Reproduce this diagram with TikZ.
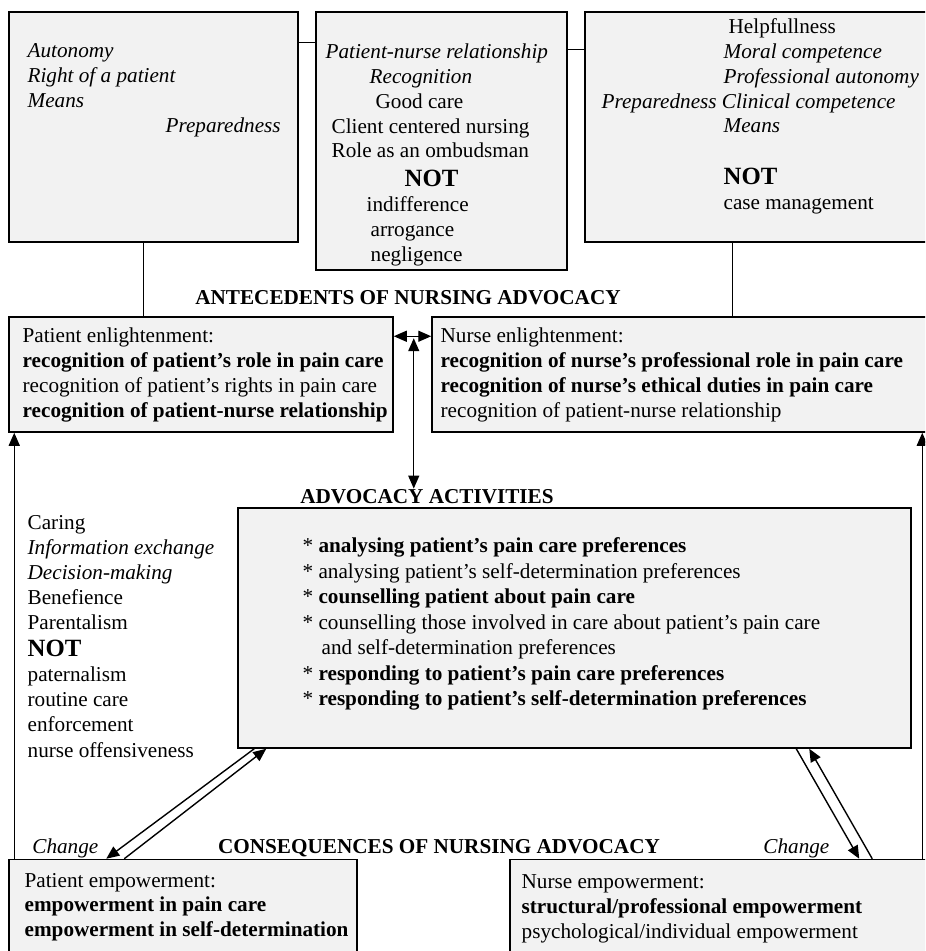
\documentclass[tikz,border=0pt]{standalone}
\usepackage{fontspec}
\setmainfont{Liberation Serif}
\usetikzlibrary{positioning, arrows.meta}
\definecolor{boxgray}{HTML}{F2F2F2}
\newcommand{\diagfont}{\fontsize{10.6pt}{12.4pt}\selectfont}
\newcommand{\nottxt}{{\fontsize{12.4pt}{12.4pt}\selectfont\bfseries NOT}}
\tikzset{%
  box/.style={draw=black, line width=0.75pt, fill=boxgray, inner sep=0pt},
  txt/.style={inner sep=0pt, align=left, anchor=north west, font=\diagfont},
  head/.style={inner sep=0pt, anchor=base, font=\diagfont\bfseries},
  link/.style={line width=0.7pt},
  arr/.style={line width=0.7pt, -{Triangle[length=6.5pt,width=5.5pt]}},
  darr/.style={line width=0.7pt, {Triangle[length=6.5pt,width=5.5pt]}-{Triangle[length=6.5pt,width=5.5pt]}}
}

\begin{document}
\begin{tikzpicture}[x=0.5pt, y=-0.5pt]
  \path[use as bounding box, fill=white] (0,0) rectangle (925,951);
  \clip (0,0) rectangle (925,951);

  \node[box, minimum width=144.5pt, minimum height=115pt] (pat) at (153.5,127) {};
  \node[box, minimum width=125.5pt, minimum height=129pt] (rel) at (441.5,141) {};
  \node[box, minimum width=182.5pt, minimum height=115pt] (nur) at (767.5,127) {};

  \node[txt] (pattxt) [below right = 14.3pt and 9.5pt of pat.north west]
    {\strut\itshape Autonomy\\ \itshape Right of a patient\\ \itshape Means\\ \hspace*{69pt}\itshape Preparedness};
  \node[txt] (reltxt) [below right = 14.8pt and 5pt of rel.north west]
    {\strut\itshape Patient-nurse relationship\\
     \hspace*{22pt}\itshape Recognition\\
     \hspace*{25pt}Good care\\
     \hspace*{3pt}Client centered nursing\\
     \hspace*{3pt}Role as an ombudsman\\[2pt]
     \hspace*{39.5pt}\nottxt\\
     \hspace*{20.5pt}indifference\\
     \hspace*{22.5pt}arrogance\\
     \hspace*{22.5pt}negligence};
  \node[txt] (nurtxt) [below right = 2.3pt and 8.5pt of nur.north west]
    {\strut\hspace*{63.5pt}Helpfullness\\
     \hspace*{61pt}\itshape Moral competence\\
     \hspace*{61pt}\itshape Professional autonomy\\
     \itshape Preparedness Clinical competence\\
     \hspace*{61pt}\itshape Means\\[13.6pt]
     \hspace*{61pt}\nottxt\\
     \hspace*{61pt}case management};

  \node[head] (antetitle) at (408,305) {ANTECEDENTS OF NURSING ADVOCACY};

  \node[box, minimum width=192pt, minimum height=57.5pt] (patenl) at (201,374.5) {};
  \node[box, minimum width=259pt, minimum height=57.5pt] (nurenl) at (691,374.5) {};

  \node[txt] (patenltxt) [below right = 4.3pt and 7pt of patenl.north west]
    {\strut Patient enlightenment:\\
     \textbf{recognition of patient’s role in pain care}\\
     recognition of patient’s rights in pain care\\
     \textbf{recognition of patient-nurse relationship}};
  \node[txt] (nurenltxt) [below right = 4.3pt and 4.5pt of nurenl.north west]
    {\strut Nurse enlightenment:\\
     \textbf{recognition of nurse’s professional role in pain care}\\
     \textbf{recognition of nurse’s ethical duties in pain care}\\
     recognition of patient-nurse relationship};

  \node[head] (acttitle) at (427,503) {ADVOCACY ACTIVITIES};
  \node[box, minimum width=336.5pt, minimum height=120pt] (act) at (574.5,628) {};
  \node[txt, font=\fontsize{10.6pt}{12.75pt}\selectfont] (acttxt) [below right = 13.6pt and 32.5pt of act.north west]
    {\strut* \textbf{analysing patient’s pain care preferences}\\
     * analysing patient’s self-determination preferences\\
     * \textbf{counselling patient about pain care}\\
     * counselling those involved in care about patient’s pain care\\
     \hspace*{9.5pt}and self-determination preferences\\
     * \textbf{responding to patient’s pain care preferences}\\
     * \textbf{responding to patient’s self-determination preferences}};

  \node[txt, font=\fontsize{10.6pt}{12.55pt}\selectfont] (styles) [below right = 39.2pt and 9.5pt of patenl.south west]
    {\strut Caring\\ \itshape Information exchange\\ \itshape Decision-making\\ Benefience\\ Parentalism\\[1pt]
     \nottxt\\ paternalism\\ routine care\\ enforcement\\ nurse offensiveness};

  \node[head, anchor=base west, font=\diagfont\itshape] (chgl) at (32,853) {Change};
  \node[head] (constitle) at (439,853) {CONSEQUENCES OF NURSING ADVOCACY};
  \node[head, anchor=base west, font=\diagfont\itshape] (chgr) at (763,853) {Change};

  \node[box, minimum width=174pt, minimum height=57.75pt] (patemp) at (183,917.25) {};
  \node[box, minimum width=220pt, minimum height=57.75pt] (nuremp) at (730,917.25) {};
  \node[txt] (patemptxt) [below right = 5.3pt and 8pt of patemp.north west]
    {\strut Patient empowerment:\\
     \textbf{empowerment in pain care}\\
     \textbf{empowerment in self-determination}};
  \node[txt] (nuremptxt) [below right = 6pt and 6pt of nuremp.north west]
    {\strut Nurse empowerment:\\
     \textbf{structural/professional empowerment}\\
     psychological/individual empowerment};

  \draw[link] ([yshift=-15.5pt]pat.north east) -- ([yshift=-15.5pt]rel.north west);
  \draw[link] ([yshift=-19pt]rel.north east) -- ([yshift=-19pt]nur.north west);
  \draw[link] ([xshift=67.5pt]pat.south west) -- ([xshift=67.5pt]patenl.north west);
  \draw[link] ([xshift=74pt]nur.south west) -- ([xshift=150.5pt]nurenl.north west);

  \draw[darr] ([yshift=-10pt]patenl.north east) -- ([yshift=-10pt]nurenl.north west);
  \coordinate (mid) at ([xshift=10pt,yshift=-11pt]patenl.north east);
  \draw[darr] (mid) -- (mid |- acttitle.north);

  \draw[arr] ([xshift=3pt]patemp.north west) -- ([xshift=3pt]patenl.south west);
  \draw[arr] ([xshift=206.5pt]nuremp.north west) -- ([xshift=245.5pt]nurenl.south west);

  \draw[arr] ([xshift=8.5pt]act.south west) -- ([xshift=49pt]patemp.north west);
  \draw[arr] ([xshift=58pt]patemp.north west) -- ([xshift=14.5pt]act.south west);
  \draw[arr] ([xshift=279.5pt]act.south west) -- ([xshift=175pt]nuremp.north west);
  \draw[arr] ([xshift=181.5pt]nuremp.north west) -- ([xshift=286pt]act.south west);
\end{tikzpicture}
\end{document}
